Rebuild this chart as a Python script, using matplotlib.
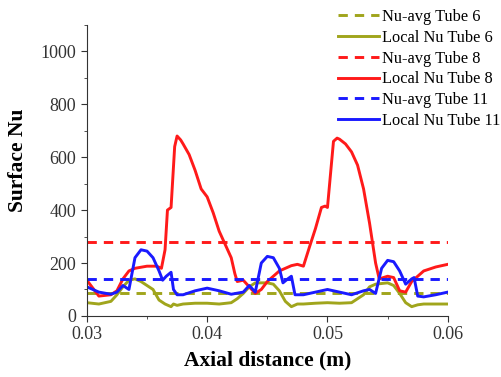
import matplotlib
matplotlib.use("Agg")
import matplotlib.pyplot as plt
from matplotlib.ticker import MultipleLocator

plt.rcParams['font.family'] = ['Liberation Serif', 'DejaVu Serif']

x_red = [0.030, 0.031, 0.032, 0.0325, 0.033, 0.0335, 0.034, 0.035, 0.0358, 0.0362, 0.0365, 0.0367, 0.0370,
         0.0373, 0.0375, 0.0378, 0.038, 0.0385, 0.039, 0.0395, 0.040, 0.0405, 0.041, 0.0415, 0.042, 0.0423,
         0.0425, 0.043, 0.0435, 0.044, 0.0445, 0.045, 0.046, 0.047, 0.0475, 0.048, 0.0485, 0.049, 0.0495,
         0.0498, 0.050, 0.0505, 0.0508, 0.051, 0.0515, 0.052, 0.0525, 0.053, 0.0535, 0.054, 0.0543, 0.055,
         0.0555, 0.056, 0.0565, 0.057, 0.0575, 0.058, 0.059, 0.060]
y_red = [135, 75, 80, 95, 140, 170, 180, 188, 188, 180, 250, 400, 410,
         640, 680, 665, 650, 610, 550, 480, 450, 390, 320, 270, 220, 160,
         130, 135, 110, 85, 100, 130, 170, 190, 195, 188, 260, 330, 410,
         415, 410, 660, 672, 668, 650, 620, 570, 480, 350, 200, 140, 150,
         145, 95, 90, 130, 150, 170, 185, 195]

x_blue = [0.030, 0.031, 0.032, 0.0325, 0.033, 0.0335, 0.034, 0.0345, 0.035, 0.0355, 0.036, 0.0363, 0.0366,
          0.037, 0.0372, 0.0375, 0.038, 0.039, 0.040, 0.041, 0.042, 0.043, 0.0435, 0.044, 0.0445, 0.045,
          0.0455, 0.046, 0.0463, 0.0467, 0.047, 0.0473, 0.048, 0.049, 0.050, 0.051, 0.052, 0.053, 0.0535,
          0.054, 0.0545, 0.055, 0.0555, 0.056, 0.0565, 0.057, 0.0572, 0.0575, 0.058, 0.059, 0.060]
y_blue = [110, 90, 82, 90, 115, 100, 220, 250, 245, 220, 170, 135, 150,
          165, 100, 80, 80, 95, 105, 95, 82, 90, 115, 90, 200, 225,
          220, 180, 125, 140, 150, 80, 80, 90, 100, 90, 80, 95, 100,
          85, 180, 210, 205, 170, 120, 140, 145, 75, 72, 80, 90]

x_olive = [0.030, 0.031, 0.032, 0.0325, 0.033, 0.0335, 0.034, 0.0345, 0.035, 0.0355, 0.036, 0.0365, 0.037,
           0.0372, 0.0375, 0.038, 0.039, 0.040, 0.041, 0.042, 0.0425, 0.043, 0.0435, 0.044, 0.045, 0.0455,
           0.046, 0.0465, 0.047, 0.0475, 0.048, 0.049, 0.050, 0.051, 0.052, 0.053, 0.0535, 0.054, 0.055,
           0.0555, 0.056, 0.0565, 0.057, 0.0575, 0.058, 0.060]
y_olive = [50, 45, 55, 80, 110, 135, 140, 130, 115, 100, 60, 45, 35,
           45, 40, 45, 48, 48, 45, 50, 65, 85, 110, 125, 125, 120,
           95, 55, 35, 45, 45, 48, 50, 48, 50, 80, 110, 120, 125,
           115, 85, 50, 35, 42, 45, 45]

avg6 = 85
avg8 = 280
avg11 = 140

olive = '#a0a51c'
red = '#ff1a1a'
blue = '#1a1aff'
lw = 2.1
dash = (0, (3.2, 2.4))

fig = plt.figure(figsize=(5.02, 3.77), dpi=100)
ax = fig.add_axes([0.173, 0.162, 0.719, 0.772])

ax.axhline(avg6, color=olive, ls=dash, lw=lw, label='Nu-avg Tube 6')
ax.plot(x_olive, y_olive, color=olive, lw=lw, label='Local Nu Tube 6')
ax.axhline(avg8, color=red, ls=dash, lw=lw, label='Nu-avg Tube 8')
ax.plot(x_red, y_red, color=red, lw=lw, label='Local Nu Tube 8')
ax.axhline(avg11, color=blue, ls=dash, lw=lw, label='Nu-avg Tube 11')
ax.plot(x_blue, y_blue, color=blue, lw=lw, label='Local Nu Tube 11')

ax.set_xlim(0.03, 0.06)
ax.set_ylim(0, 1100)
ax.set_xticks([0.03, 0.04, 0.05, 0.06])
ax.set_xticklabels(['0.03', '0.04', '0.05', '0.06'])
ax.set_yticks([0, 200, 400, 600, 800, 1000])
ax.xaxis.set_minor_locator(MultipleLocator(0.005))
ax.yaxis.set_minor_locator(MultipleLocator(100))
for s in ['top', 'right']:
    ax.spines[s].set_visible(False)
for s in ['left', 'bottom']:
    ax.spines[s].set_color('#333333')
ax.tick_params(which='major', direction='out', length=4, labelsize=13, colors='#333333')
ax.tick_params(which='minor', direction='out', length=2.5, colors='#333333')
ax.set_xlabel('Axial distance (m)', fontsize=15.5, fontweight='bold', labelpad=5)
ax.set_ylabel('Surface Nu', fontsize=15.5, fontweight='bold')
ax.yaxis.set_label_coords(-0.163, 0.535)

fig.legend(loc='upper left', bbox_to_anchor=(0.661, 0.993), frameon=False, fontsize=11.8,
           handlelength=2.5, handletextpad=0.15, labelspacing=0.29, borderaxespad=0)

fig.savefig('out.png', dpi=100)
